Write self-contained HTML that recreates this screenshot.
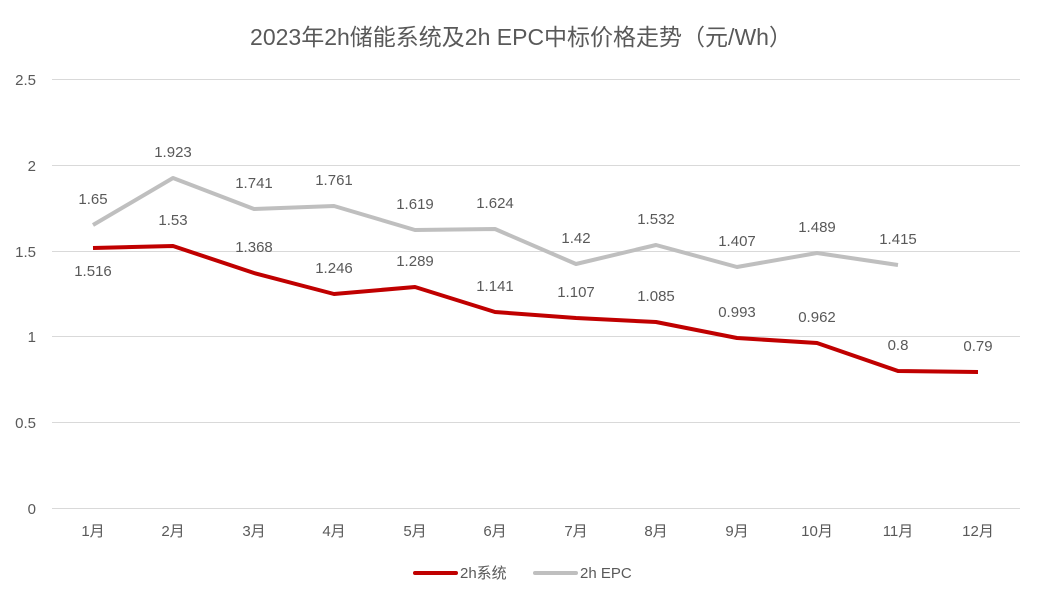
<!DOCTYPE html>
<html><head><meta charset="utf-8"><style>
body{margin:0;background:#fff;}
svg text{font-family:"Liberation Sans","Noto Sans CJK SC",sans-serif;fill:#595959;}
</style></head><body>
<svg width="1042" height="602" xmlns="http://www.w3.org/2000/svg">
<rect width="1042" height="602" fill="#fff"/>
<text x="521" y="45" font-size="23" text-anchor="middle">2023年2h储能系统及2h EPC中标价格走势（元/Wh）</text>
<g stroke="#d9d9d9" stroke-width="1">
<line x1="52" x2="1020" y1="79.5" y2="79.5"/>
<line x1="52" x2="1020" y1="165.5" y2="165.5"/>
<line x1="52" x2="1020" y1="251.5" y2="251.5"/>
<line x1="52" x2="1020" y1="336.5" y2="336.5"/>
<line x1="52" x2="1020" y1="422.5" y2="422.5"/>
<line x1="52" x2="1020" y1="508.5" y2="508.5"/>
</g>
<g font-size="15" text-anchor="end">
<text x="36" y="85">2.5</text><text x="36" y="171">2</text><text x="36" y="257">1.5</text>
<text x="36" y="342">1</text><text x="36" y="428">0.5</text><text x="36" y="514">0</text>
</g>
<g font-size="15" text-anchor="middle">
<text x="93" y="536">1月</text><text x="173" y="536">2月</text><text x="254" y="536">3月</text>
<text x="334" y="536">4月</text><text x="415" y="536">5月</text><text x="495" y="536">6月</text>
<text x="576" y="536">7月</text><text x="656" y="536">8月</text><text x="737" y="536">9月</text>
<text x="817" y="536">10月</text><text x="898" y="536">11月</text><text x="978" y="536">12月</text>
</g>
<polyline fill="none" stroke="#bfbfbf" stroke-width="4" stroke-linejoin="round" points="93,225 173,178 254,209 334,206 415,230 495,229 576,264 656,245 737,267 817,253 898,265"/>
<polyline fill="none" stroke="#c00000" stroke-width="4" stroke-linejoin="round" points="93,248 173,246 254,273 334,294 415,287 495,312 576,318 656,322 737,338 817,343 898,371 978,372"/>
<g font-size="15" text-anchor="middle">
<text x="93" y="204">1.65</text><text x="173" y="157">1.923</text><text x="254" y="188">1.741</text>
<text x="334" y="185">1.761</text><text x="415" y="209">1.619</text><text x="495" y="208">1.624</text>
<text x="576" y="243">1.42</text><text x="656" y="224">1.532</text><text x="737" y="246">1.407</text>
<text x="817" y="232">1.489</text><text x="898" y="244">1.415</text>
<text x="93" y="276">1.516</text><text x="173" y="225">1.53</text><text x="254" y="252">1.368</text>
<text x="334" y="273">1.246</text><text x="415" y="266">1.289</text><text x="495" y="291">1.141</text>
<text x="576" y="297">1.107</text><text x="656" y="301">1.085</text><text x="737" y="317">0.993</text>
<text x="817" y="322">0.962</text><text x="898" y="350">0.8</text><text x="978" y="351">0.79</text>
</g>
<line x1="415" x2="456" y1="573" y2="573" stroke="#c00000" stroke-width="4" stroke-linecap="round"/>
<text x="460" y="578" font-size="15">2h系统</text>
<line x1="535" x2="576" y1="573" y2="573" stroke="#bfbfbf" stroke-width="4" stroke-linecap="round"/>
<text x="580" y="578" font-size="15">2h EPC</text>
</svg>
</body></html>
